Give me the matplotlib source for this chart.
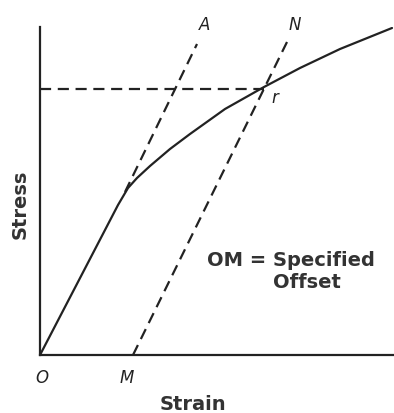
import matplotlib.pyplot as plt

# stress-strain curve (arbitrary units)
curve_strain = [0.0, 0.78, 0.88, 0.97, 1.10, 1.30, 1.50, 1.85, 2.24, 2.60, 3.00, 3.52]
curve_stress = [0.0, 1.50, 1.67, 1.77, 1.89, 2.06, 2.21, 2.46, 2.68, 2.87, 3.06, 3.27]

# dashed construction lines
oa_strain = [0.85, 1.57]
oa_stress = [1.63, 3.11]
mn_strain = [0.93, 2.47]
mn_stress = [0.0, 3.13]
yield_strain = [0.0, 2.24]
yield_stress = [2.66, 2.66]

ink = "#222222"

fig = plt.figure(figsize=(3.94, 4.14), dpi=100)
ax = fig.add_axes([40 / 394, 58 / 414, 354 / 394, 328 / 414])
ax.set_xlim(0, 3.54)
ax.set_ylim(0, 3.28)

ax.spines["top"].set_visible(False)
ax.spines["right"].set_visible(False)
for s in ("left", "bottom"):
    ax.spines[s].set_linewidth(1.6)
    ax.spines[s].set_color(ink)
ax.set_xticks([])
ax.set_yticks([])

ax.plot(curve_strain, curve_stress, color=ink, lw=1.6,
        solid_capstyle="round", solid_joinstyle="round")
dash = dict(color=ink, lw=1.6, dashes=(5, 3), clip_on=False)
ax.plot(oa_strain, oa_stress, **dash)
ax.plot(mn_strain, mn_stress, **dash)
ax.plot(yield_strain, yield_stress, **dash)

lab = dict(fontsize=12, style="italic", color=ink, ha="center", va="center",
           clip_on=False, fontweight="medium")
ax.text(0.02, -0.22, "O", **lab)
ax.text(0.87, -0.22, "M", **lab)
ax.text(1.65, 3.31, "A", **lab)
ax.text(2.55, 3.31, "N", **lab)
ax.text(2.35, 2.58, "r", **lab)

ax.text(2.51, 0.96, "OM = Specified", fontsize=14, color="#333333",
        ha="center", va="center", fontweight="bold")
ax.text(2.67, 0.74, "Offset", fontsize=14, color="#333333",
        ha="center", va="center", fontweight="bold")

ax.text(-0.20, 1.52, "Stress", rotation=90, fontsize=14, fontweight="bold",
        color="#333333", ha="center", va="center", clip_on=False)
ax.text(1.53, -0.49, "Strain", fontsize=14, fontweight="bold",
        color="#333333", ha="center", va="center", clip_on=False)

fig.savefig("out.png", dpi=100, facecolor="white")
